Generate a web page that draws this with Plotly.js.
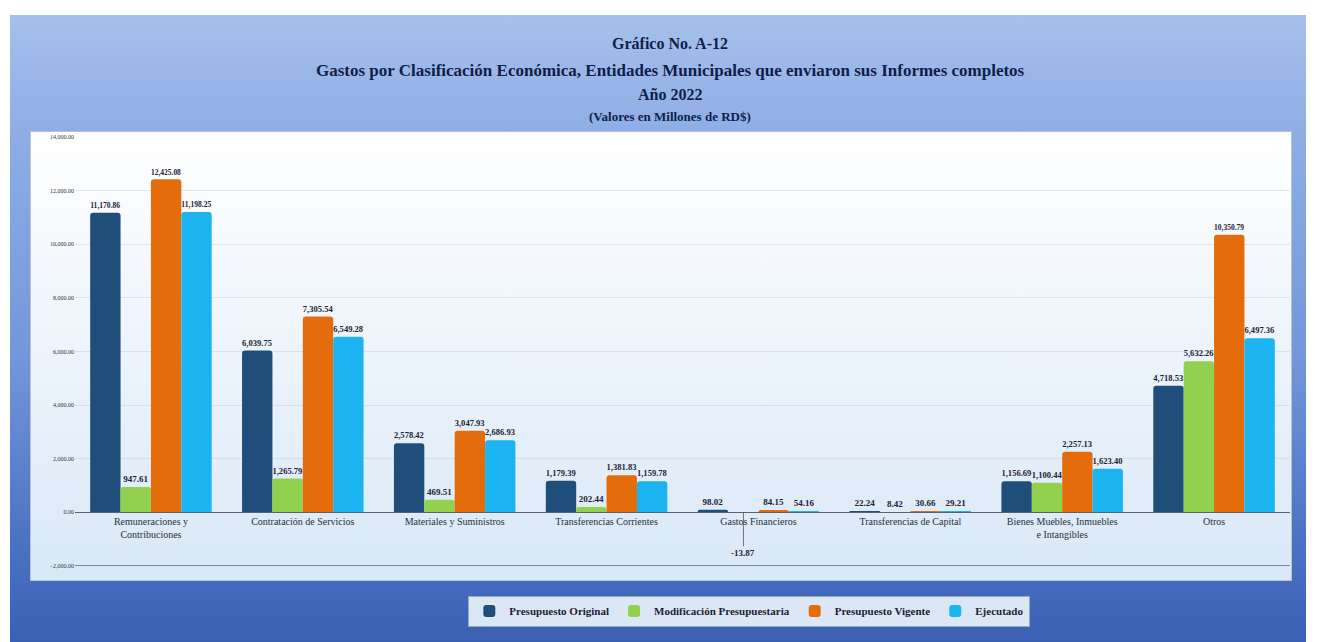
<!DOCTYPE html>
<html>
<head>
<meta charset="utf-8">
<script src="https://cdn.plot.ly/plotly-3.0.1.min.js"></script>
<style>
  html, body { margin:0; padding:0; background:#ffffff; width:1318px; height:642px; overflow:hidden; }
  #frame { position:absolute; left:10px; top:15px; width:1296px; height:627px;
    background: linear-gradient(to bottom, #A7C0EC 0%, #8FAEE6 18%, #7396DA 55%, #4A71C2 85%, #3A60B4 100%); }
  #plotbox { position:absolute; left:30px; top:131px; width:1260px; height:448px;
    background: linear-gradient(to bottom, #FFFFFF 0%, #F2F7FC 35%, #D9E8F7 100%);
    border:1px solid #B8C2D0; }
  #chart { position:absolute; left:0; top:0; width:1318px; height:642px; }
</style>
</head>
<body>
<div id="frame"></div>
<div id="plotbox"></div>
<div id="chart"></div>
<script>
const categories = [
  "Remuneraciones y<br>Contribuciones",
  "Contratación de Servicios",
  "Materiales y Suministros",
  "Transferencias Corrientes",
  "Gastos Financieros",
  "Transferencias de Capital",
  "Bienes Muebles, Inmuebles<br>e Intangibles",
  "Otros"
];
const seriesNames = ["Presupuesto Original", "Modificación Presupuestaria", "Presupuesto Vigente", "Ejecutado"];
const presupuestoOriginal = [11170.86, 6039.75, 2578.42, 1179.39, 98.02, 22.24, 1156.69, 4718.53];
const modificacion       = [947.61, 1265.79, 469.51, 202.44, -13.87, 8.42, 1100.44, 5632.26];
const presupuestoVigente = [12425.08, 7305.54, 3047.93, 1381.83, 84.15, 30.66, 2257.13, 10350.79];
const ejecutado          = [11198.25, 6549.28, 2686.93, 1159.78, 54.16, 29.21, 1623.40, 6497.36];
const yTicks = [-2000, 0, 2000, 4000, 6000, 8000, 10000, 12000, 14000];

const colors = ["#1F4E7A", "#92D050", "#E46C0A", "#1CB4F0"];
const values = [presupuestoOriginal, modificacion, presupuestoVigente, ejecutado];
const serif = "Liberation Serif, Times New Roman, serif";
const labelFont = { family: serif, size: 9, color: "#1B2235", weight: "bold" };

const traces = values.map((v, i) => ({
  type: "bar",
  name: seriesNames[i],
  x: categories,
  y: v,
  marker: { color: colors[i], cornerradius: 3, line: { width: 0 } },
  texttemplate: "%{y:,.2f}",
  textposition: v.map(val => val < 0 ? "none" : "outside"),
  textangle: 0,
  cliponaxis: false,
  textfont: labelFont,
  hoverinfo: "x+y+name"
}));

// labels for negative values: placed below the category label with a leader line
const negAnnotations = [];
values.forEach((v, i) => {
  v.forEach((val, j) => {
    if (val < 0) {
      negAnnotations.push({
        x: categories[j], y: val, xref: "x", yref: "y",
        text: val.toLocaleString("en-US", { minimumFractionDigits: 2, maximumFractionDigits: 2 }),
        showarrow: true, arrowhead: 0, arrowwidth: 0.8, arrowcolor: "#555",
        ax: 0, ay: 40, xshift: -15,
        font: labelFont
      });
    }
  });
});

const titleLines = [
  { t: "Gráfico No. A-12", y: 1.219, s: 16 },
  { t: "Gastos por Clasificación Económica, Entidades Municipales que enviaron sus Informes completos", y: 1.156, s: 17 },
  { t: "Año 2022", y: 1.098, s: 16 },
  { t: "(Valores en Millones de RD$)", y: 1.047, s: 13 }
];

const layout = {
  width: 1318, height: 642,
  paper_bgcolor: "rgba(0,0,0,0)",
  plot_bgcolor: "rgba(0,0,0,0)",
  margin: { l: 75, r: 28, t: 137, b: 76 },
  showlegend: true,
  barmode: "group",
  bargap: 0.2,
  bargroupgap: 0,
  xaxis: {
    anchor: "free",
    position: 0.125,
    showline: true, linecolor: "#5A6270", linewidth: 1,
    ticks: "", showgrid: false, zeroline: false,
    tickfont: { family: serif, size: 10, color: "#2A2F3A" },
    tickangle: 0,
    automargin: false
  },
  yaxis: {
    range: [-2000, 14000],
    tickvals: yTicks,
    tickformat: ",.2f",
    tickfont: { family: serif, size: 6, color: "#333" },
    showgrid: true, gridcolor: "rgba(190,205,225,0.45)", gridwidth: 1,
    zeroline: false, showline: false, ticks: "",
    automargin: false
  },
  legend: {
    orientation: "h",
    x: 0.555, xanchor: "center",
    y: -0.105, yanchor: "middle",
    bgcolor: "#DCE7F5", bordercolor: "#9AA8BC", borderwidth: 1,
    font: { family: serif, size: 11, color: "#1B2235", weight: "bold" },
    traceorder: "normal", itemclick: false
  },
  shapes: [
    { type: "line", xref: "paper", yref: "y", x0: 0, x1: 1, y0: -2000, y1: -2000,
      line: { color: "#5A6270", width: 1.5 } }
  ],
  annotations: titleLines.map(l => ({
    text: l.t, xref: "paper", yref: "paper", x: 0.49, y: l.y,
    xanchor: "center", yanchor: "middle", showarrow: false,
    font: { family: serif, size: l.s, color: "#0F1E4A", weight: "bold" }
  })).concat(negAnnotations)
};

Plotly.newPlot("chart", traces, layout, { displayModeBar: false });
</script>
</body>
</html>
